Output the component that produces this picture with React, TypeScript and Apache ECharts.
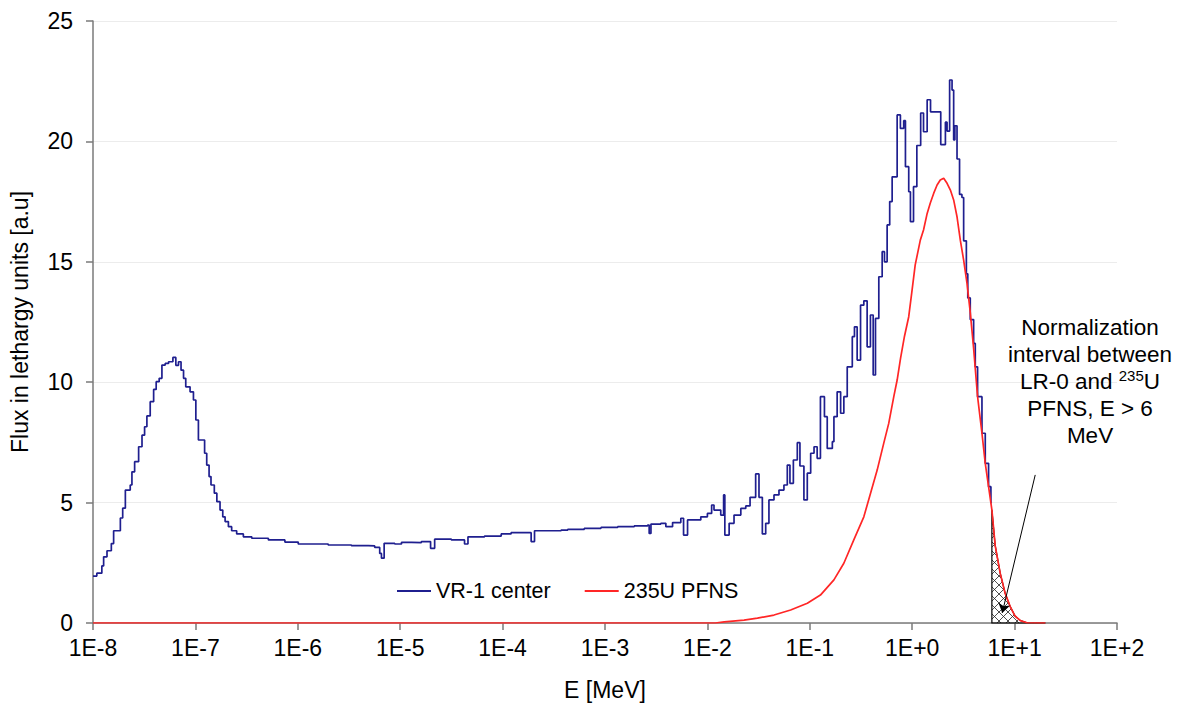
import React, { useEffect, useRef } from "react";
import * as echarts from "echarts";

// Neutron flux per unit lethargy measured in the VR-1 core centre (histogram groups)
const vr1Energy = [
  1.0e-8, 1.09e-8, 1.22e-8, 1.27e-8, 1.37e-8, 1.51e-8, 1.59e-8, 1.85e-8, 1.95e-8, 2.07e-8,
  2.31e-8, 2.4e-8, 2.55e-8, 2.79e-8, 3.01e-8, 3.19e-8, 3.36e-8, 3.62e-8, 3.91e-8, 4.14e-8,
  4.43e-8, 4.71e-8, 5.07e-8, 5.47e-8, 6.03e-8, 6.44e-8, 6.84e-8, 7.24e-8, 7.66e-8, 8.05e-8,
  8.87e-8, 9.57e-8, 1.01e-7, 1.07e-7, 1.23e-7, 1.29e-7, 1.36e-7, 1.42e-7, 1.53e-7, 1.62e-7,
  1.74e-7, 1.85e-7, 1.95e-7, 2.1e-7, 2.26e-7, 2.53e-7, 2.94e-7, 3.55e-7, 5.16e-7, 7.48e-7,
  1.01e-6, 1.98e-6, 3.34e-6, 4.87e-6, 5.64e-6, 6.31e-6, 6.56e-6, 6.97e-6, 8.84e-6, 1.03e-5,
  1.29e-5, 1.61e-5, 1.98e-5, 2.17e-5, 3.16e-5, 4.25e-5, 4.59e-5, 6.66e-5, 9.69e-5, 1.21e-4,
  1.9e-4, 2.05e-4, 2.98e-4, 3.73e-4, 4.33e-4, 6.28e-4, 9.14e-4, 1.33e-3, 1.93e-3, 2.61e-3,
  2.7e-3, 2.81e-3, 3.51e-3, 3.93e-3, 4.57e-3, 5.5e-3, 5.85e-3, 6.4e-3, 8.62e-3, 1.0e-2,
  1.1e-2, 1.16e-2, 1.35e-2, 1.44e-2, 1.48e-2, 1.63e-2, 1.82e-2, 2.12e-2, 2.37e-2, 2.61e-2,
  2.96e-2, 3.19e-2, 3.44e-2, 3.71e-2, 3.99e-2, 4.47e-2, 5.0e-2, 5.59e-2, 6.03e-2, 6.4e-2,
  6.91e-2, 7.55e-2, 8.01e-2, 8.76e-2, 9.45e-2, 0.102, 0.11, 0.118, 0.127, 0.139,
  0.148, 0.166, 0.172, 0.185, 0.2, 0.215, 0.232, 0.26, 0.273, 0.29,
  0.313, 0.337, 0.363, 0.391, 0.416, 0.438, 0.472, 0.509, 0.536, 0.569,
  0.603, 0.637, 0.713, 0.767, 0.826, 0.859, 0.925, 0.961, 1.03, 1.11,
  1.21, 1.29, 1.4, 1.51, 1.9, 2.11, 2.19, 2.32, 2.45, 2.54,
  2.61, 2.74, 2.9, 3.06, 3.18, 3.38, 3.49, 3.69, 3.98, 4.13,
  4.35, 4.8, 5.17, 5.57, 5.87, 6.0,
];
const vr1Flux = [
  1.95, 2.07, 2.37, 2.75, 3.0, 3.3, 3.83, 4.36, 4.77, 5.52,
  5.73, 6.28, 6.7, 7.32, 7.8, 8.15, 8.6, 9.19, 9.7, 10.02,
  10.16, 10.71, 10.78, 10.85, 11.03, 10.7, 10.85, 10.5, 10.16, 9.81,
  9.6, 9.26, 8.43, 7.6, 7.05, 6.56, 6.08, 5.73, 5.39, 5.04,
  4.69, 4.41, 4.21, 4.0, 3.83, 3.7, 3.58, 3.52, 3.45, 3.36,
  3.28, 3.24, 3.21, 3.2, 3.14, 2.89, 2.69, 3.31, 3.28, 3.35,
  3.34, 3.38, 3.1, 3.48, 3.45, 3.28, 3.58, 3.61, 3.7, 3.75,
  3.38, 3.83, 3.83, 3.86, 3.89, 3.93, 3.97, 4.0, 4.03, 4.07,
  3.72, 4.11, 4.14, 4.0, 4.17, 4.35, 3.65, 4.28, 4.41, 4.55,
  4.9, 4.69, 4.48, 5.32, 3.65, 4.14, 4.48, 4.76, 4.86, 5.22,
  6.19, 5.22, 3.7, 4.14, 5.11, 5.32, 5.52, 5.73, 6.56, 5.8,
  6.77, 7.49, 6.52, 5.11, 6.22, 7.05, 7.32, 6.84, 9.4, 8.57,
  7.25, 7.53, 8.57, 9.6, 8.71, 9.4, 10.64, 11.89, 12.3, 10.92,
  13.2, 13.38, 11.47, 12.79, 10.3, 12.65, 14.38, 15.42, 15.0, 16.53,
  17.5, 18.53, 21.1, 20.54, 20.86, 18.95, 17.91, 16.67, 18.12, 19.83,
  21.18, 20.4, 21.73, 21.23, 19.87, 20.8, 20.43, 22.55, 22.13, 20.06,
  20.65, 19.27, 17.8, 17.67, 15.87, 14.5, 13.5, 12.6, 11.61, 10.64,
  9.4, 7.88, 6.63, 5.66, 5.0, 5.0,
];

// 235U prompt fission neutron spectrum, per unit lethargy
const pfnsEnergy = [
  1.0e-8, 1.2e-2, 1.46e-2, 2.28e-2, 3.08e-2, 4.47e-2, 6.5e-2, 9.46e-2, 0.127, 0.172,
  0.215, 0.269, 0.337, 0.392, 0.455, 0.527, 0.59, 0.661, 0.713, 0.77,
  0.84, 0.925, 0.998, 1.07, 1.2, 1.29, 1.4, 1.5, 1.62, 1.75,
  1.88, 2.03, 2.19, 2.36, 2.54, 2.74, 2.95, 3.18, 3.43, 3.69,
  3.98, 4.35, 4.8, 5.17, 5.57, 6.0, 6.47, 7.24, 8.09, 9.06,
  10.1, 11.4, 13.2, 20.0,
];
const pfnsFlux = [
  0, 0, 0.05, 0.12, 0.2, 0.33, 0.54, 0.82, 1.16, 1.79,
  2.48, 3.45, 4.41, 5.39, 6.35, 7.46, 8.29, 9.4, 10.09, 11.0,
  11.9, 12.72, 13.83, 14.87, 15.9, 16.32, 17.01, 17.43, 17.84, 18.19,
  18.4, 18.47, 18.26, 17.98, 17.57, 16.87, 15.9, 15.07, 14.1, 12.9,
  11.4, 9.4, 7.88, 6.63, 5.66, 4.7, 3.2, 2.06, 1.23, 0.68,
  0.29, 0.1, 0.01, 0,
];

// Normalization interval (E > 6 MeV) and the pointer to it
const normMinEnergy = 6;
const pointerFrom = [15.9, 6.15];
const pointerTo = [7.57, 0.42];

const xDecadeMin = -8;
const xDecadeMax = 2;
const yTickValues = [0, 5, 10, 15, 20, 25];

const FONT = "'Liberation Sans', Arial, sans-serif";
const BLUE = "#1f1f8f";
const RED = "#ff2626";
const AXIS = "#7a7a7a";

function makeHatch(): HTMLCanvasElement {
  const c = document.createElement("canvas");
  c.width = 9;
  c.height = 9;
  const ctx = c.getContext("2d")!;
  ctx.strokeStyle = "#222";
  ctx.lineWidth = 0.8;
  ctx.beginPath();
  ctx.moveTo(-1, -1);
  ctx.lineTo(10, 10);
  ctx.moveTo(10, -1);
  ctx.lineTo(-1, 10);
  ctx.stroke();
  return c;
}

export default function App() {
  const ref = useRef<HTMLDivElement>(null);

  useEffect(() => {
    if (!ref.current) return;
    const chart = echarts.init(ref.current, null, { renderer: "svg" });

    const vr1Data = vr1Energy.map((e, i) => [Math.log10(e), vr1Flux[i]]);
    const pfnsData = pfnsEnergy.map((e, i) => [Math.log10(e), pfnsFlux[i]]);

    // points of the PFNS curve above the normalization threshold
    const tailE: number[] = [];
    const tailV: number[] = [];
    pfnsEnergy.forEach((e, i) => {
      if (e >= normMinEnergy) {
        tailE.push(e);
        tailV.push(pfnsFlux[i]);
      }
    });
    const hatch = makeHatch();

    chart.setOption({
      animation: false,
      backgroundColor: "#ffffff",
      textStyle: { fontFamily: FONT },
      grid: { left: 91, right: 65, top: 21, bottom: 83, containLabel: false },
      xAxis: {
        type: "value",
        min: xDecadeMin,
        max: xDecadeMax,
        interval: 1,
        name: "E [MeV]",
        nameLocation: "middle",
        nameGap: 55,
        nameTextStyle: { fontSize: 23, color: "#000", fontFamily: FONT },
        axisLine: { onZero: false, lineStyle: { color: AXIS, width: 1.5 } },
        axisTick: { show: true, length: 7, lineStyle: { color: AXIS, width: 1.5 } },
        axisLabel: {
          fontSize: 23,
          color: "#000",
          margin: 13,
          fontFamily: FONT,
          formatter: (v: number) => "1E" + (v >= 0 ? "+" : "") + Math.round(v),
        },
        splitLine: { show: false },
      },
      yAxis: {
        type: "value",
        min: yTickValues[0],
        max: yTickValues[yTickValues.length - 1],
        interval: 5,
        name: "Flux in lethargy units [a.u]",
        nameLocation: "middle",
        nameGap: 62,
        nameRotate: 90,
        nameTextStyle: { fontSize: 23, color: "#000", fontFamily: FONT },
        axisLine: { show: true, onZero: false, lineStyle: { color: AXIS, width: 1.5 } },
        axisTick: { show: true, length: 7, lineStyle: { color: AXIS, width: 1.5 } },
        axisLabel: { fontSize: 23, color: "#000", margin: 20, fontFamily: FONT },
        splitLine: { show: true, lineStyle: { color: "#ececec", width: 1 } },
      },
      legend: {
        data: ["VR-1 center", "235U PFNS"],
        left: 392,
        top: 575,
        icon: "rect",
        itemWidth: 34,
        itemHeight: 2,
        itemGap: 34,
        textStyle: { fontSize: 21.5, color: "#000", fontFamily: FONT },
      },
      graphic: [
        {
          type: "text",
          x: 1090,
          y: 314,
          z: 10,
          style: {
            text:
              "{n|Normalization}\n{n|interval between}\n{n|LR-0 and }{s|235}{n|U}\n{n|PFNS, E > 6}\n{n|MeV}",
            align: "center",
            textAlign: "center",
            verticalAlign: "top",
            fill: "#000",
            rich: {
              n: { fontSize: 22.5, lineHeight: 27, fontFamily: FONT, fill: "#000", color: "#000" },
              s: {
                fontSize: 15,
                lineHeight: 17,
                verticalAlign: "top",
                fontFamily: FONT,
                fill: "#000",
                color: "#000",
              },
            },
          },
        },
      ],
      series: [
        {
          type: "custom",
          name: "normalization",
          silent: true,
          z: 2,
          data: [[Math.log10(normMinEnergy), 0]],
          renderItem: (_params: any, api: any) => {
            const pts: number[][] = [api.coord([Math.log10(normMinEnergy), 0])];
            tailE.forEach((e, i) => pts.push(api.coord([Math.log10(e), tailV[i]])));
            pts.push(api.coord([Math.log10(tailE[tailE.length - 1]), 0]));
            return {
              type: "polygon",
              shape: { points: pts },
              style: {
                fill: { image: hatch, repeat: "repeat" },
                stroke: "#000",
                lineWidth: 1.2,
              },
            };
          },
        },
        {
          name: "VR-1 center",
          type: "line",
          step: "end",
          showSymbol: false,
          symbol: "none",
          data: vr1Data,
          lineStyle: { color: BLUE, width: 1.7 },
          itemStyle: { color: BLUE },
          z: 3,
        },
        {
          name: "235U PFNS",
          type: "line",
          showSymbol: false,
          symbol: "none",
          data: pfnsData,
          lineStyle: { color: RED, width: 1.7 },
          itemStyle: { color: RED },
          z: 4,
          markLine: {
            silent: true,
            symbol: ["none", "arrow"],
            symbolSize: 9,
            label: { show: false },
            lineStyle: { color: "#000", width: 1, type: "solid" },
            data: [
              [
                { coord: [Math.log10(pointerFrom[0]), pointerFrom[1]] },
                { coord: [Math.log10(pointerTo[0]), pointerTo[1]] },
              ],
            ],
          },
        },
      ],
    });

    return () => chart.dispose();
  }, []);

  return (
    <div
      ref={ref}
      style={{ position: "absolute", left: 0, top: 0, width: 1182, height: 706, background: "#fff" }}
    />
  );
}
